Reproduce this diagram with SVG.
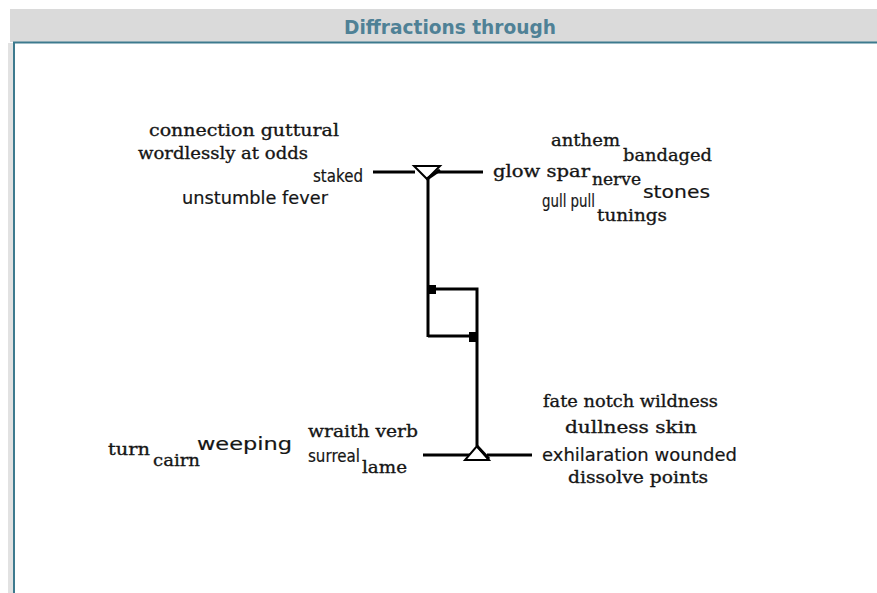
<svg xmlns="http://www.w3.org/2000/svg" width="877" height="593" viewBox="0 0 877 593">
<style>
.sf{font-family:"DejaVu Serif","Liberation Serif",serif;font-size:17.5px;fill:#151515;stroke:#151515;stroke-width:0.35}
.ss{font-family:"DejaVu Sans","Liberation Sans",sans-serif;font-size:18px;fill:#151515;stroke:#151515;stroke-width:0.2}
.ln{stroke:#000;stroke-width:3;fill:none}
.tri{stroke:#000;stroke-width:2;fill:#fff}
</style>
<rect x="0" y="0" width="877" height="593" fill="#fff"/>
<g id="frame">
<rect x="10" y="9" width="867" height="33" fill="#dadada"/>
<rect x="8" y="43" width="5" height="550" fill="#e2e2e2"/>
<line x1="13" y1="42.5" x2="877" y2="42.5" stroke="#3d7a8e" stroke-width="2"/>
<line x1="14" y1="42" x2="14" y2="593" stroke="#3d7a8e" stroke-width="2"/>
<text x="450" y="34" text-anchor="middle" font-family="DejaVu Sans Condensed,DejaVu Sans,sans-serif" font-weight="bold" font-size="20" fill="#4f8196" textLength="212" lengthAdjust="spacingAndGlyphs">Diffractions through</text>
</g>
<g id="connectors">
<line class="ln" x1="373" y1="172" x2="415" y2="172"/>
<line class="ln" x1="437" y1="172" x2="483" y2="172"/>
<line class="ln" x1="428" y1="179" x2="428" y2="337"/>
<polyline class="ln" points="428,289 477,289 477,446"/>
<line class="ln" x1="428" y1="336" x2="477" y2="336"/>
<line class="ln" x1="423" y1="455" x2="470" y2="455"/>
<line class="ln" x1="487" y1="455" x2="532" y2="455"/>
</g>
<g id="junction-top">
<polygon class="tri" points="414,166 440,166 427,179"/>
<line class="ln" x1="427" y1="179" x2="440" y2="170"/>
</g>
<g id="junction-bottom">
<polygon class="tri" points="465,460 489,460 477,446"/>
<line class="ln" x1="477" y1="446" x2="489" y2="459"/>
</g>
<g id="marks">
<rect x="428" y="285" width="8" height="9" fill="#000"/>
<rect x="469" y="332" width="9" height="10" fill="#000"/>
</g>
<g id="node-staked">
<text class="sf" x="149" y="136" textLength="190" lengthAdjust="spacingAndGlyphs">connection guttural</text>
<text class="sf" x="138" y="159" textLength="170" lengthAdjust="spacingAndGlyphs">wordlessly at odds</text>
<text class="ss" x="313" y="182" font-size="19" textLength="50" lengthAdjust="spacingAndGlyphs">staked</text>
<text class="ss" x="182" y="204" textLength="146" lengthAdjust="spacingAndGlyphs">unstumble fever</text>
</g>
<g id="node-glow">
<text class="sf" x="551" y="146" textLength="69" lengthAdjust="spacingAndGlyphs">anthem</text>
<text class="sf" x="623" y="161" textLength="89" lengthAdjust="spacingAndGlyphs">bandaged</text>
<text class="sf" x="493" y="177" textLength="97" lengthAdjust="spacingAndGlyphs">glow spar</text>
<text class="sf" x="592" y="185" textLength="49" lengthAdjust="spacingAndGlyphs">nerve</text>
<text class="ss" x="643" y="198" font-size="25" textLength="67" lengthAdjust="spacingAndGlyphs">stones</text>
<text class="ss" x="542" y="207" font-size="17" textLength="53" lengthAdjust="spacingAndGlyphs">gull pull</text>
<text class="sf" x="597" y="221" textLength="70" lengthAdjust="spacingAndGlyphs">tunings</text>
</g>
<g id="node-lame">
<text class="sf" x="108" y="455" textLength="42" lengthAdjust="spacingAndGlyphs">turn</text>
<text class="sf" x="153" y="466" textLength="47" lengthAdjust="spacingAndGlyphs">cairn</text>
<text class="ss" x="197" y="450" font-size="27" textLength="95" lengthAdjust="spacingAndGlyphs">weeping</text>
<text class="sf" x="308" y="437" textLength="110" lengthAdjust="spacingAndGlyphs">wraith verb</text>
<text class="ss" x="308" y="462" font-size="17" textLength="52" lengthAdjust="spacingAndGlyphs">surreal</text>
<text class="sf" x="362" y="473" textLength="45" lengthAdjust="spacingAndGlyphs">lame</text>
</g>
<g id="node-exhilaration">
<text class="sf" x="543" y="407" textLength="175" lengthAdjust="spacingAndGlyphs">fate notch wildness</text>
<text class="sf" x="565" y="433" textLength="132" lengthAdjust="spacingAndGlyphs">dullness skin</text>
<text class="ss" x="542" y="461" textLength="195" lengthAdjust="spacingAndGlyphs">exhilaration wounded</text>
<text class="sf" x="568" y="483" textLength="140" lengthAdjust="spacingAndGlyphs">dissolve points</text>
</g>
</svg>
